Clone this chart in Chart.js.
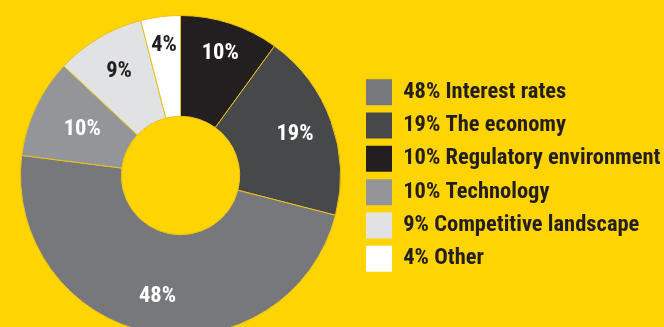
<!DOCTYPE html>
<html>
<head>
<meta charset="utf-8">
<script src="https://cdn.jsdelivr.net/npm/chart.js@4"></script>
<style>
  html, body { margin: 0; padding: 0; background: #FFD400; overflow: hidden; }
  canvas { display: block; }
</style>
</head>
<body>
<canvas id="chart" width="664" height="336"></canvas>
<script>
// Data, in drawing order (clockwise from 12 o'clock)
const categories = ['Regulatory environment', 'The economy', 'Interest rates', 'Technology', 'Competitive landscape', 'Other'];
const values = [10, 19, 48, 10, 9, 4];
// Order the legend lists the categories in
const legendOrder = [2, 1, 0, 3, 4, 5];

const sliceColors = ['#231F20', '#47484A', '#77787B', '#939598', '#E1E2E3', '#FFFFFF'];
const labelColors = ['#FFFFFF', '#FFFFFF', '#FFFFFF', '#FFFFFF', '#231F20', '#231F20'];
// where the % label sits across the ring (0 = inner edge, 1 = outer edge)
const labelDepth = [0.69, 0.62, 0.63, 0.49, 0.61, 0.71];

const FONT = "'Roboto Condensed', 'Open Sans Condensed', sans-serif";
const FONT_SIZE = 22.5;
const LEG_PAD = 7.3;
const BOX = 26;

// measure longest legend text so the legend lands where it should
const mctx = document.createElement('canvas').getContext('2d');
mctx.font = 'bold ' + FONT_SIZE + 'px ' + FONT;
let textW = 0;
categories.forEach((c, i) => {
  textW = Math.max(textW, mctx.measureText(values[i] + '% ' + c).width);
});
const legendLeft = 366 - LEG_PAD;
const padRight = 664 - legendLeft - (LEG_PAD + BOX + FONT_SIZE / 2 + textW + 10);

// percent labels on the ring
const sliceLabels = {
  id: 'sliceLabels',
  afterDatasetsDraw(chart) {
    const ctx = chart.ctx;
    const meta = chart.getDatasetMeta(0);
    ctx.save();
    ctx.font = 'bold ' + FONT_SIZE + 'px ' + FONT;
    ctx.textAlign = 'center';
    ctx.textBaseline = 'middle';
    meta.data.forEach((arc, i) => {
      const p = arc.getProps(['x', 'y', 'startAngle', 'endAngle', 'innerRadius', 'outerRadius'], true);
      const mid = (p.startAngle + p.endAngle) / 2;
      const r = p.innerRadius + labelDepth[i] * (p.outerRadius - p.innerRadius);
      ctx.fillStyle = labelColors[i];
      ctx.fillText(values[i] + '%', p.x + Math.cos(mid) * r, p.y + Math.sin(mid) * r);
    });
    ctx.restore();
  }
};

new Chart(document.getElementById('chart').getContext('2d'), {
  type: 'doughnut',
  data: {
    labels: categories,
    datasets: [{
      data: values,
      backgroundColor: sliceColors,
      borderColor: '#E8C21A',
      borderWidth: 1
    }]
  },
  options: {
    responsive: false,
    animation: false,
    cutout: '37%',
    layout: {
      padding: { top: 15, bottom: 0, left: legendLeft - 356.4, right: padRight }
    },
    plugins: {
      tooltip: { enabled: false },
      legend: {
        position: 'right',
        align: 'center',
        labels: {
          boxWidth: BOX,
          boxHeight: BOX,
          padding: LEG_PAD,
          color: '#231F20',
          font: { family: FONT, size: FONT_SIZE, weight: 'bold' },
          generateLabels() {
            return legendOrder.map(i => ({
              text: values[i] + '% ' + categories[i],
              fillStyle: sliceColors[i],
              strokeStyle: sliceColors[i],
              lineWidth: 0,
              fontColor: '#231F20',
              index: i
            }));
          }
        }
      }
    }
  },
  plugins: [sliceLabels]
});
</script>
</body>
</html>
